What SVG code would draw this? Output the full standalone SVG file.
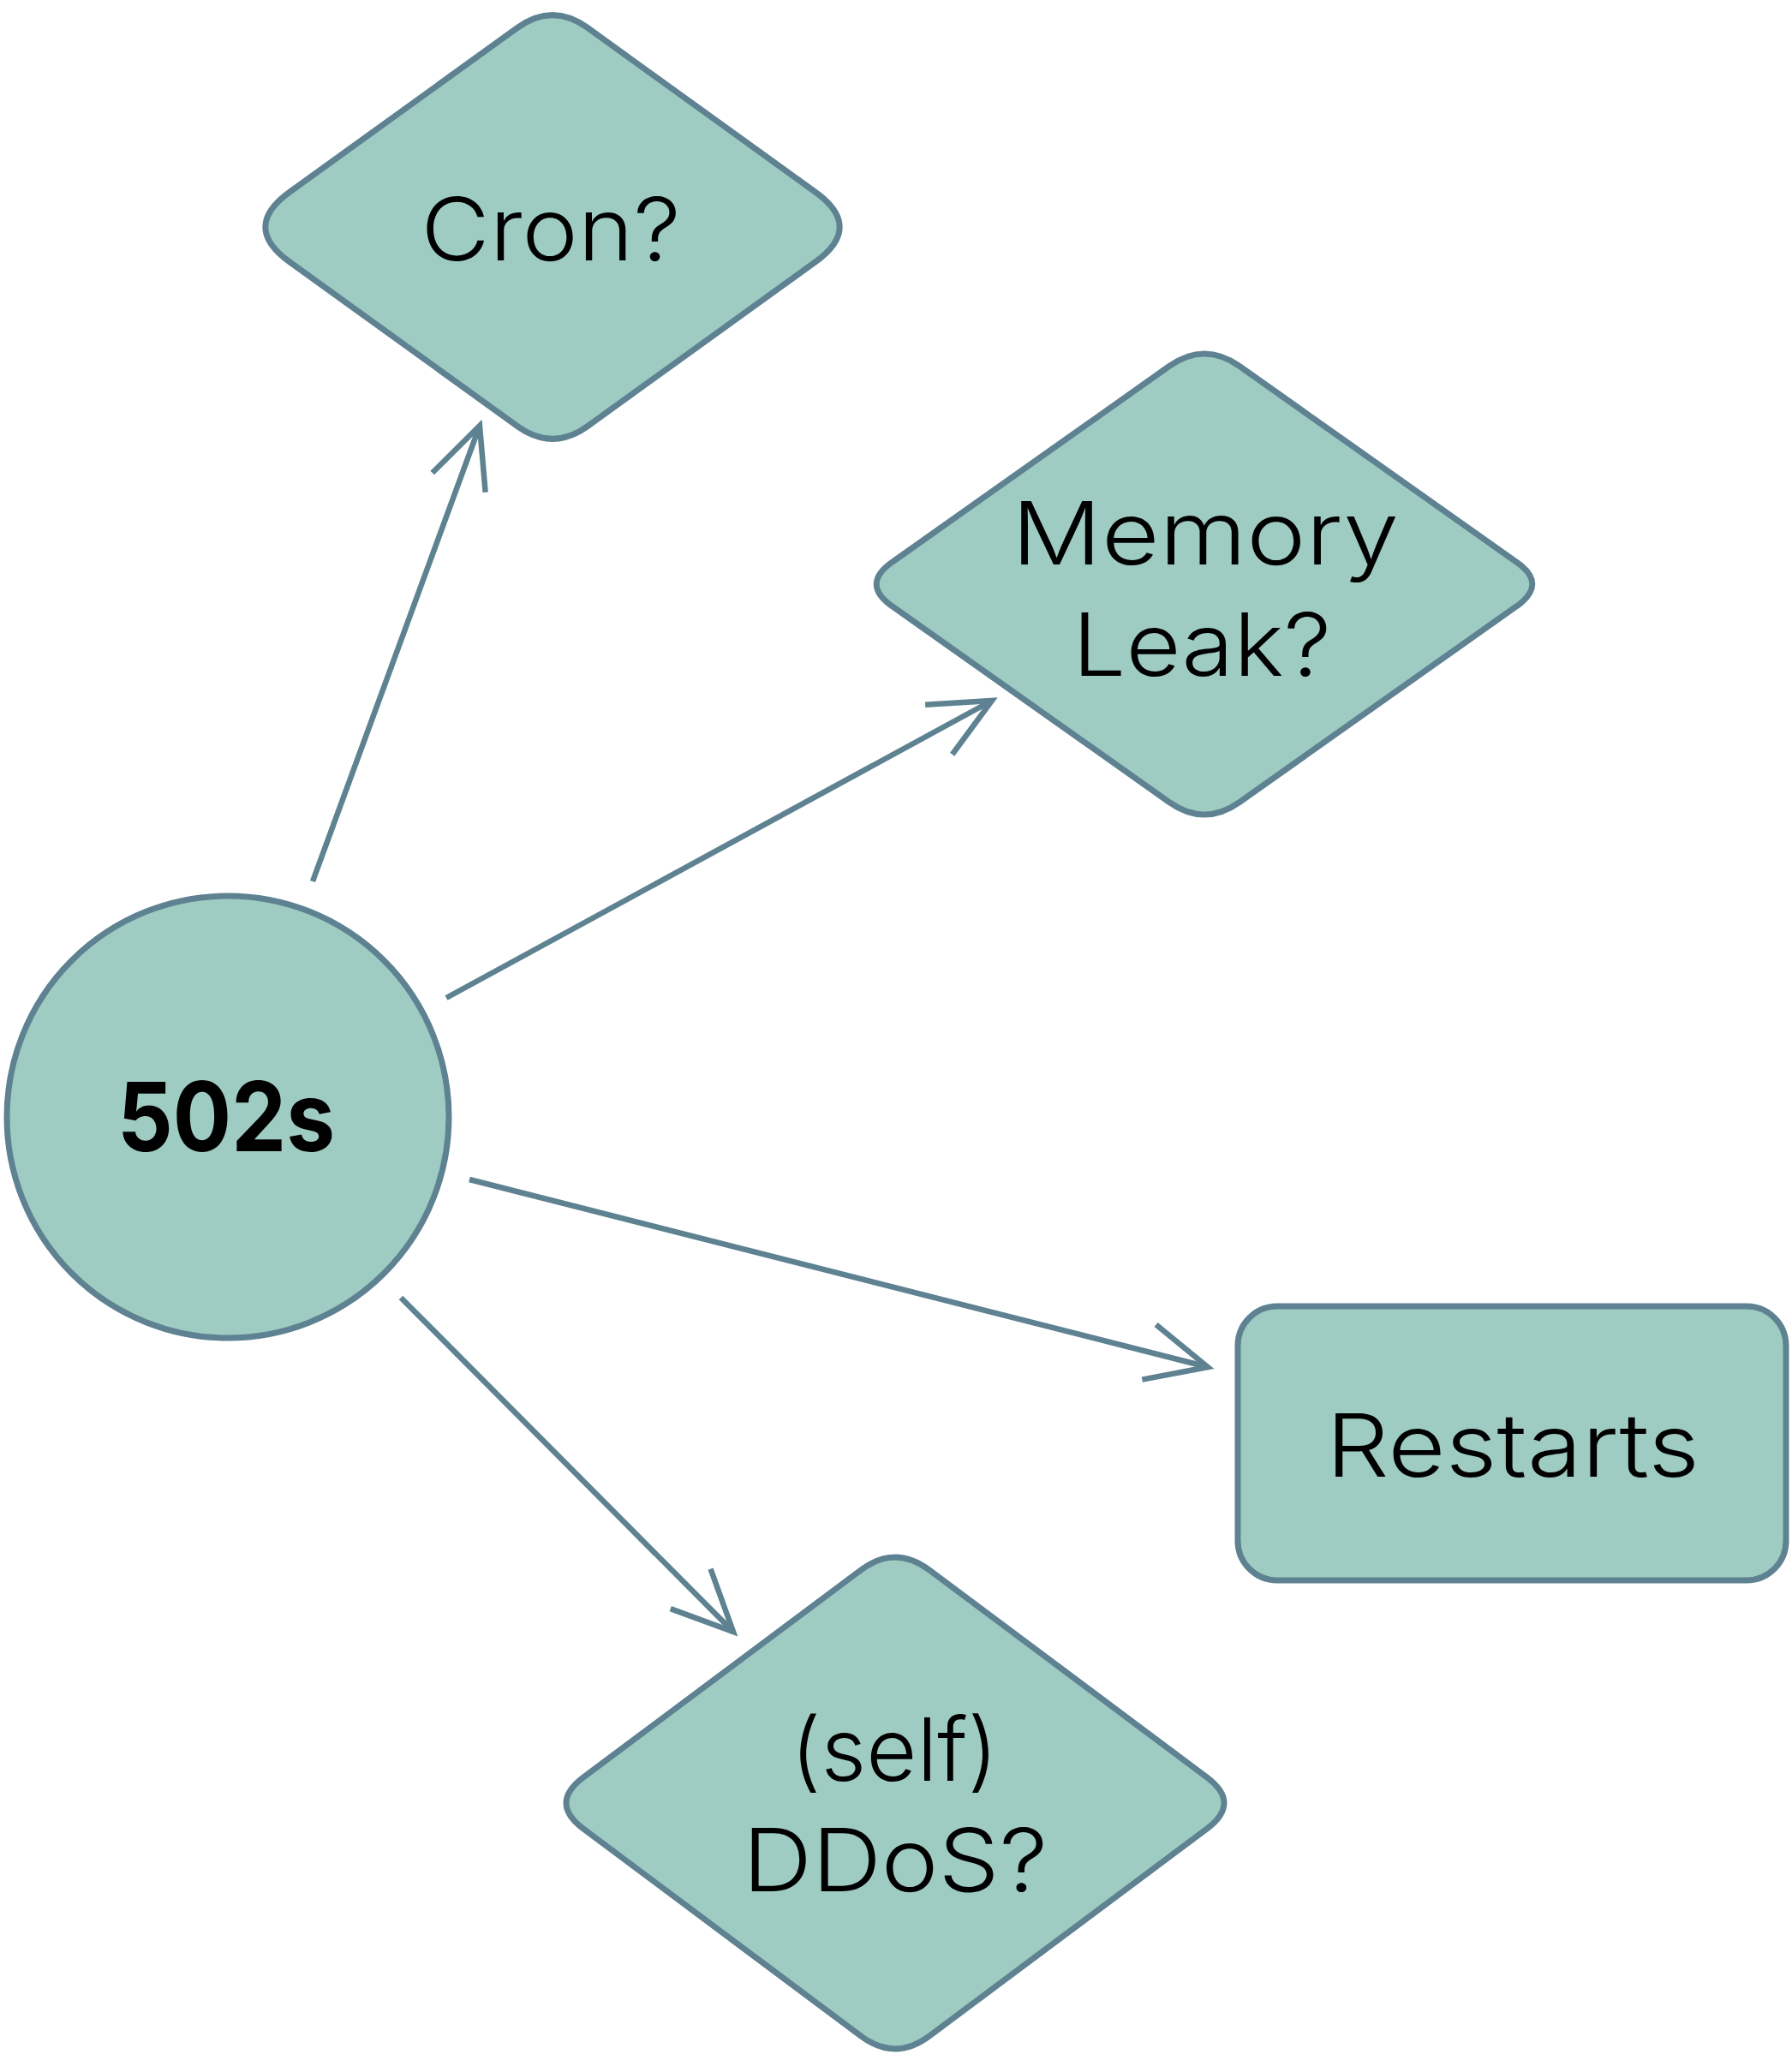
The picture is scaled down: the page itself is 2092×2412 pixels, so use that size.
<svg xmlns="http://www.w3.org/2000/svg" width="2092" height="2412" viewBox="0 0 2092 2412">
<style>
.node{fill:#9ECBC2;stroke:#5E8291;stroke-width:7;stroke-linejoin:round}
.lbl{font-family:Inter,"Open Sans","Liberation Sans",sans-serif;font-weight:350;font-size:102px;fill:#000;text-anchor:middle}
.bold{font-family:Inter,"Open Sans","Liberation Sans",sans-serif;font-weight:700;font-size:112px;fill:#000;text-anchor:middle}
.edge{fill:none;stroke:#5E8291;stroke-width:6.5}
</style>
<defs>
<marker id="arr" markerUnits="userSpaceOnUse" markerWidth="100" markerHeight="100" viewBox="-80 -50 100 100" refX="0" refY="0" orient="auto" overflow="visible">
<path d="M-70.7,-33 L0,0 L-70.7,33" fill="none" stroke="#5E8291" stroke-width="6.5" stroke-linejoin="miter"/>
</marker>
</defs>
<rect width="2092" height="2412" fill="#fff"/>
<g id="connectors">
<path class="edge" d="M365,1029 L560,497" marker-end="url(#arr)"/>
<path class="edge" d="M521,1165 L1158,818" marker-end="url(#arr)"/>
<path class="edge" d="M548,1377 L1410,1596" marker-end="url(#arr)"/>
<path class="edge" d="M468,1515 L856,1905" marker-end="url(#arr)"/>
</g>
<g id="cron">
<path class="node" d="M685.6,32.2 L951.4,223.8 Q1009,265 951.4,306.2 L685.6,497.8 Q645,527 604.4,497.8 L338.6,306.2 Q281,265 338.6,223.8 L604.4,32.2 Q645,3 685.6,32.2 Z"/>
<text class="lbl" x="643" y="304" textLength="303" lengthAdjust="spacingAndGlyphs">Cron?</text>
</g>
<g id="memory">
<path class="node" d="M1446.9,427.4 L1768.1,654.6 Q1809.5,682 1768.1,709.4 L1446.9,936.6 Q1406,965.4 1365.1,936.6 L1043.9,709.4 Q1002.5,682 1043.9,654.6 L1365.1,427.4 Q1406,398.6 1446.9,427.4 Z"/>
<text class="lbl" x="1407" y="659" textLength="452" lengthAdjust="spacingAndGlyphs">Memory</text>
<text class="lbl" x="1403" y="789" textLength="302" lengthAdjust="spacingAndGlyphs">Leak?</text>
</g>
<g id="restarts">
<rect class="node" x="1445" y="1525" width="640" height="320" rx="46" ry="46"/>
<text class="lbl" x="1766" y="1724" textLength="436" lengthAdjust="spacingAndGlyphs">Restarts</text>
</g>
<g id="ddos">
<path class="node" d="M1085,1833 L1409,2075 Q1449,2105 1409,2135 L1085,2377 Q1045,2407 1005,2377 L681,2135 Q641,2105 681,2075 L1005,1833 Q1045,1803 1085,1833 Z"/>
<text class="lbl" x="1044" y="2079" textLength="242" lengthAdjust="spacingAndGlyphs">(self)</text>
<text class="lbl" x="1045" y="2208" textLength="356" lengthAdjust="spacingAndGlyphs">DDoS?</text>
</g>
<g id="n502s">
<circle class="node" cx="266" cy="1304" r="258"/>
<text class="bold" x="264" y="1344" textLength="254" lengthAdjust="spacingAndGlyphs">502s</text>
</g>
</svg>
